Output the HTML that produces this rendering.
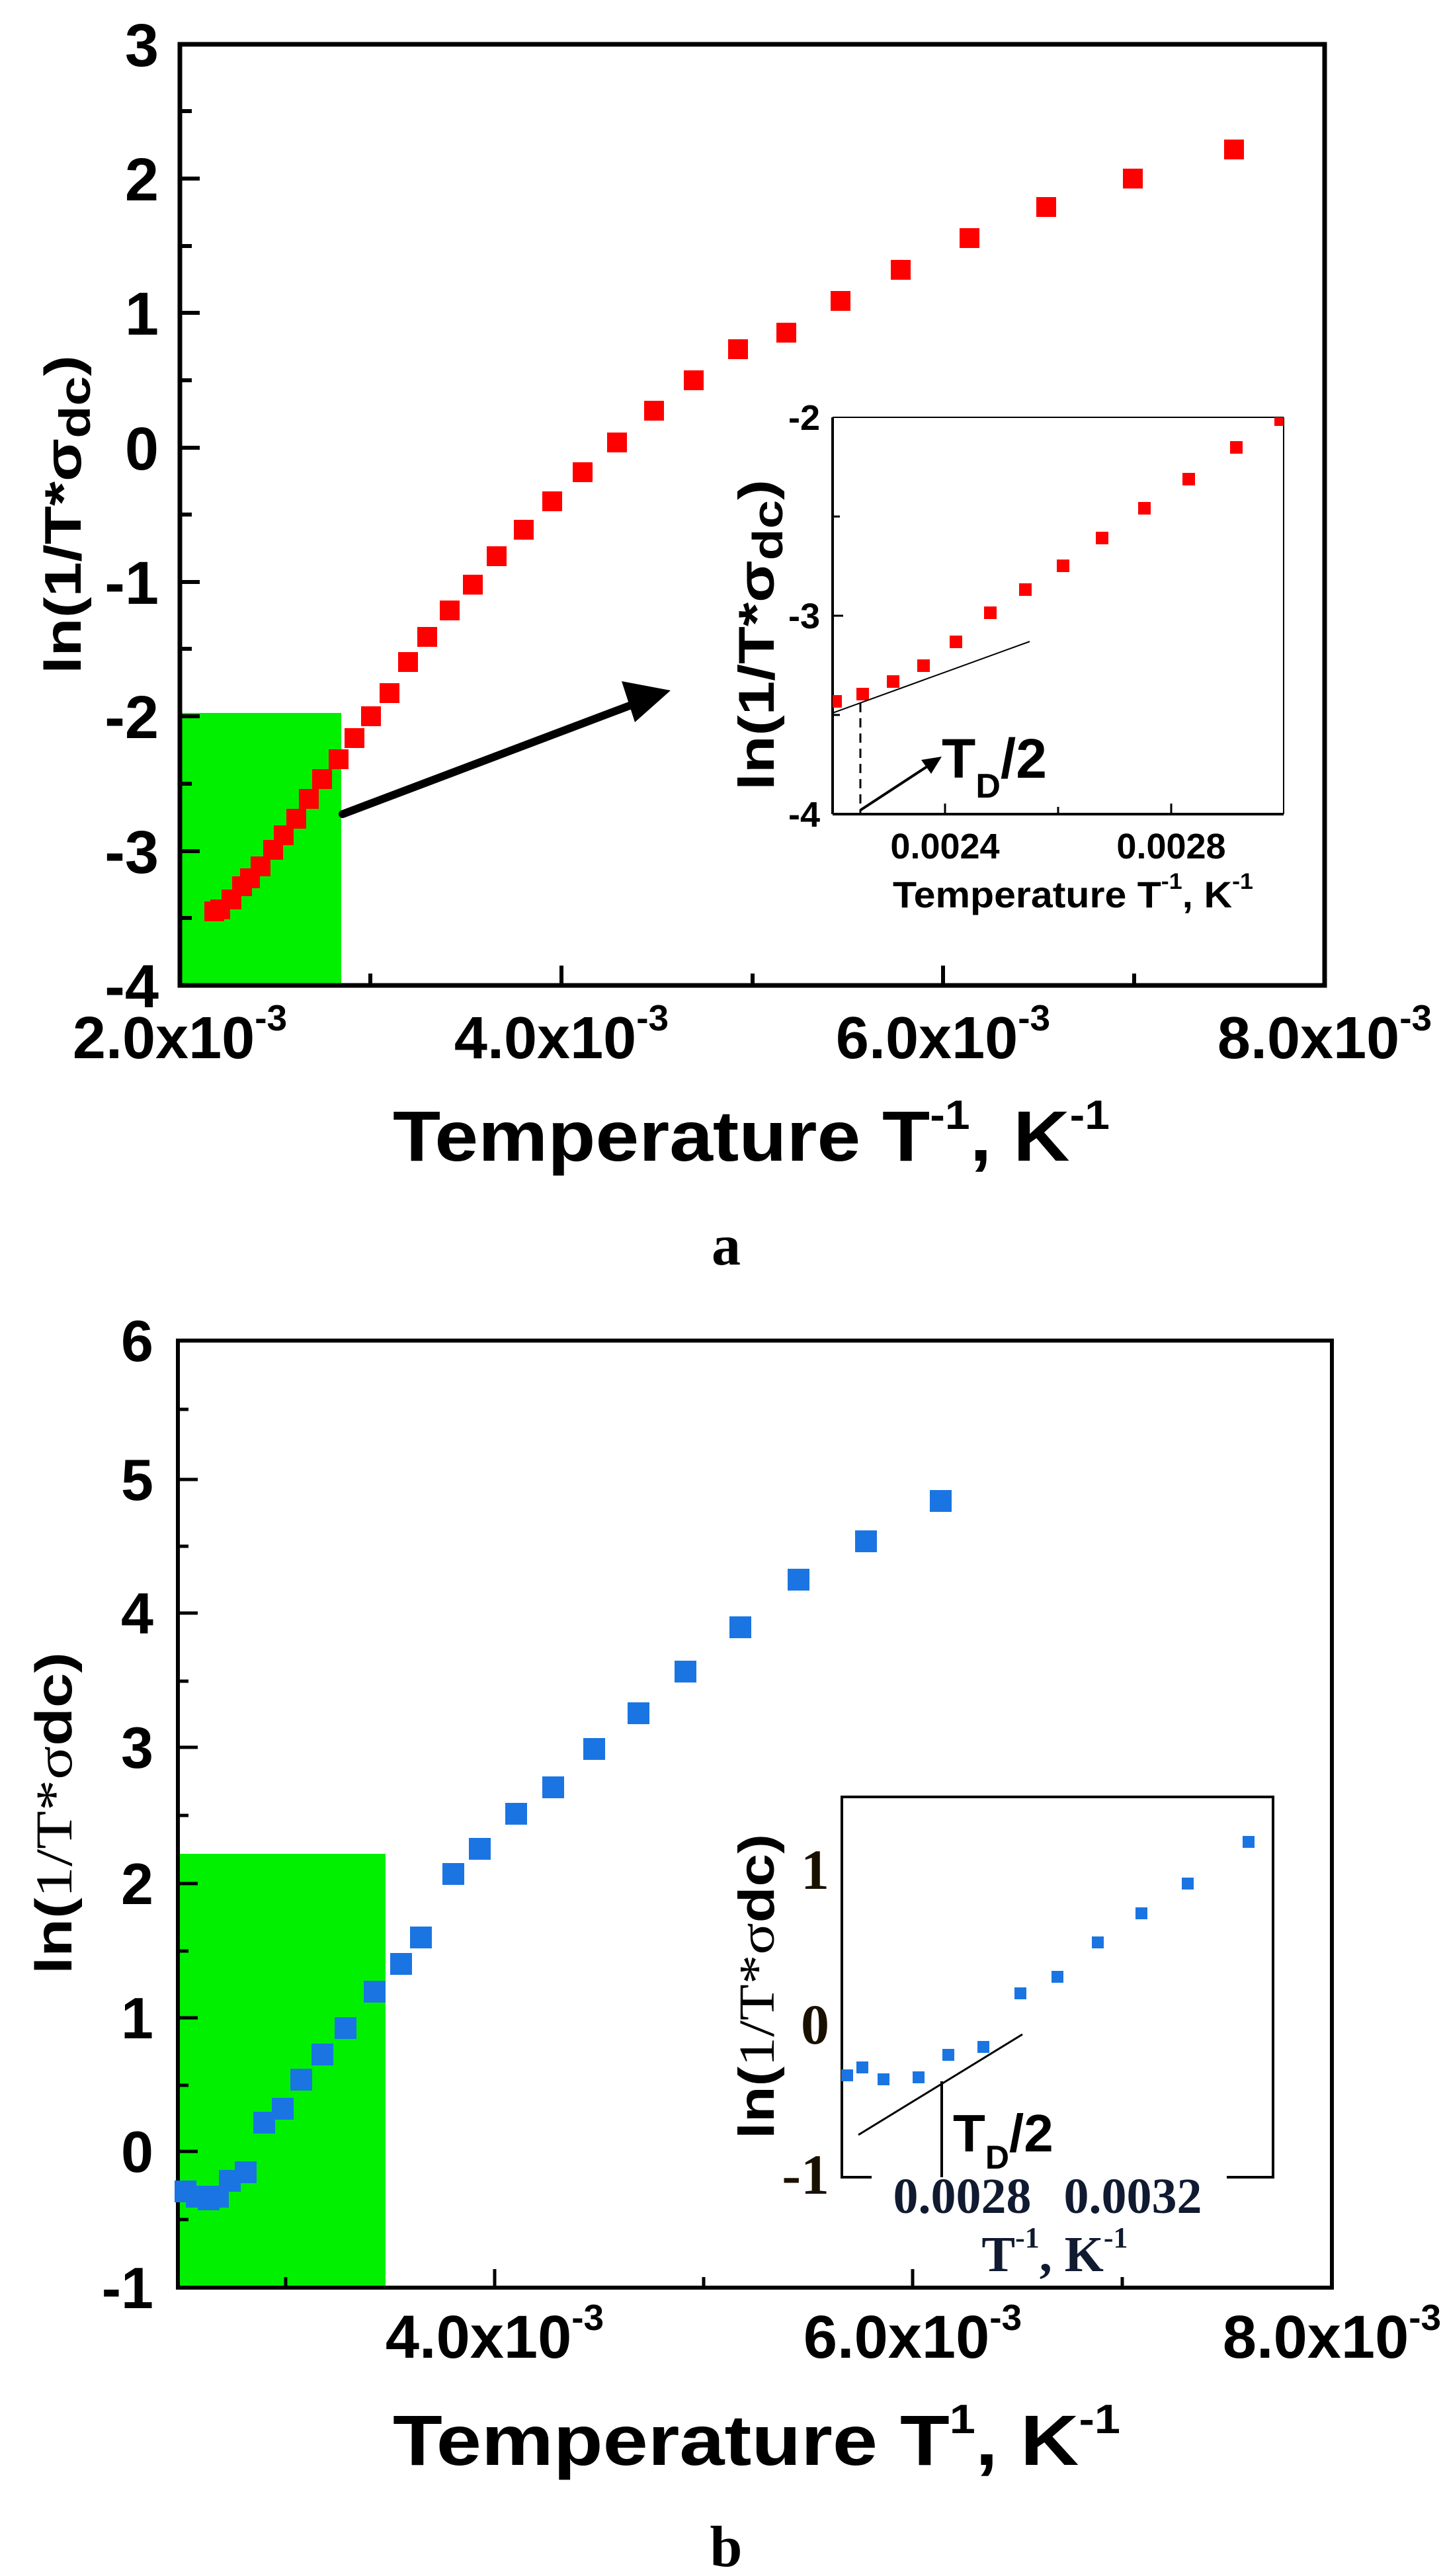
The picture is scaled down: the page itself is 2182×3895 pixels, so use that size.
<!DOCTYPE html>
<html><head><meta charset="utf-8"><style>html,body{margin:0;padding:0;background:#fff}svg{display:block}</style></head>
<body>
<svg xmlns="http://www.w3.org/2000/svg" width="2182" height="3895" viewBox="0 0 2182 3895">
<defs>
<clipPath id="ca"><rect x="1259" y="631" width="682" height="600"/></clipPath>
</defs>
<g font-family="Liberation Sans, Arial, sans-serif" font-weight="bold">
<!-- ===== Panel a ===== -->
<rect x="272" y="1078" width="244" height="412" fill="#00f000"/>
<rect x="272" y="67" width="1731" height="1423" fill="none" stroke="#000" stroke-width="7"/>
<g stroke="#000" stroke-width="6">
<line x1="272" y1="67" x2="302" y2="67"/><line x1="272" y1="168" x2="290" y2="168"/>
<line x1="272" y1="270" x2="302" y2="270"/><line x1="272" y1="372" x2="290" y2="372"/>
<line x1="272" y1="473" x2="302" y2="473"/><line x1="272" y1="575" x2="290" y2="575"/>
<line x1="272" y1="677" x2="302" y2="677"/><line x1="272" y1="778" x2="290" y2="778"/>
<line x1="272" y1="880" x2="302" y2="880"/><line x1="272" y1="981" x2="290" y2="981"/>
<line x1="272" y1="1083" x2="302" y2="1083"/><line x1="272" y1="1185" x2="290" y2="1185"/>
<line x1="272" y1="1287" x2="302" y2="1287"/><line x1="272" y1="1388" x2="290" y2="1388"/>
<line x1="560" y1="1490" x2="560" y2="1472"/><line x1="849" y1="1490" x2="849" y2="1460"/>
<line x1="1138" y1="1490" x2="1138" y2="1472"/><line x1="1426" y1="1490" x2="1426" y2="1460"/>
<line x1="1715" y1="1490" x2="1715" y2="1472"/>
</g>
<g font-size="92" text-anchor="end">
<text x="240" y="100">3</text><text x="240" y="303">2</text><text x="240" y="506">1</text>
<text x="240" y="710">0</text><text x="240" y="913">-1</text><text x="240" y="1116">-2</text>
<text x="240" y="1320">-3</text><text x="240" y="1523">-4</text>
</g>
<g font-size="90">
<text x="272" y="1600" text-anchor="middle">2.0x10<tspan font-size="55" dy="-42">-3</tspan></text>
<text x="849" y="1600" text-anchor="middle">4.0x10<tspan font-size="55" dy="-42">-3</tspan></text>
<text x="1426" y="1600" text-anchor="middle">6.0x10<tspan font-size="55" dy="-42">-3</tspan></text>
<text x="2003" y="1600" text-anchor="middle">8.0x10<tspan font-size="55" dy="-42">-3</tspan></text>
</g>
<text x="594" y="1755" font-size="108" textLength="1084" lengthAdjust="spacingAndGlyphs">Temperature T<tspan font-size="62" dy="-48">-1</tspan><tspan dy="48">, K</tspan><tspan font-size="62" dy="-48">-1</tspan></text>
<text transform="translate(122,1019) rotate(-90)" font-size="78" textLength="482" lengthAdjust="spacingAndGlyphs">ln(1/T*σ<tspan font-size="66" dy="14">dc</tspan><tspan dy="-14">)</tspan></text>
<g fill="#ff0000">
<rect x="309" y="1363" width="30" height="30"/><rect x="318" y="1360" width="30" height="30"/>
<rect x="335" y="1345" width="30" height="30"/><rect x="351" y="1325" width="30" height="30"/>
<rect x="363" y="1313" width="30" height="30"/><rect x="379" y="1295" width="30" height="30"/>
<rect x="398" y="1270" width="30" height="30"/><rect x="414" y="1248" width="30" height="30"/>
<rect x="433" y="1223" width="30" height="30"/><rect x="452" y="1193" width="30" height="30"/>
<rect x="472" y="1163" width="30" height="30"/><rect x="497" y="1133" width="30" height="30"/>
<rect x="521" y="1101" width="30" height="30"/><rect x="546" y="1068" width="30" height="30"/>
<rect x="574" y="1033" width="30" height="30"/><rect x="602" y="986" width="30" height="30"/>
<rect x="631" y="948" width="30" height="30"/><rect x="665" y="908" width="30" height="30"/>
<rect x="700" y="869" width="30" height="30"/><rect x="736" y="826" width="30" height="30"/>
<rect x="777" y="786" width="30" height="30"/><rect x="820" y="743" width="30" height="30"/>
<rect x="866" y="699" width="30" height="30"/><rect x="918" y="654" width="30" height="30"/>
<rect x="974" y="606" width="30" height="30"/><rect x="1034" y="560" width="30" height="30"/>
<rect x="1101" y="513" width="30" height="30"/><rect x="1174" y="488" width="30" height="30"/>
<rect x="1256" y="440" width="30" height="30"/><rect x="1347" y="393" width="30" height="30"/>
<rect x="1451" y="345" width="30" height="30"/><rect x="1567" y="298" width="30" height="30"/>
<rect x="1698" y="255" width="30" height="30"/><rect x="1851" y="211" width="30" height="30"/>
</g>
<line x1="518" y1="1231" x2="960" y2="1064" stroke="#000" stroke-width="12" stroke-linecap="round"/>
<polygon points="1014,1044 940,1030 960,1092" fill="#000"/>
<!-- inset a -->
<line x1="1259" y1="631" x2="1941" y2="631" stroke="#000" stroke-width="2"/>
<line x1="1941" y1="631" x2="1941" y2="1231" stroke="#000" stroke-width="2"/>
<line x1="1259" y1="631" x2="1259" y2="1231" stroke="#000" stroke-width="4"/>
<line x1="1259" y1="1231" x2="1941" y2="1231" stroke="#000" stroke-width="4"/>
<g stroke="#000" stroke-width="3">
<line x1="1259" y1="781" x2="1270" y2="781"/><line x1="1259" y1="931" x2="1275" y2="931"/>
<line x1="1259" y1="1081" x2="1270" y2="1081"/>
<line x1="1429" y1="1231" x2="1429" y2="1215"/><line x1="1600" y1="1231" x2="1600" y2="1220"/>
<line x1="1771" y1="1231" x2="1771" y2="1215"/>
</g>
<g font-size="54" text-anchor="end">
<text x="1240" y="650">-2</text><text x="1240" y="950">-3</text><text x="1240" y="1250">-4</text>
</g>
<g font-size="54" text-anchor="middle">
<text x="1429" y="1298">0.0024</text><text x="1771" y="1298">0.0028</text>
</g>
<text x="1350" y="1372" font-size="56" textLength="545" lengthAdjust="spacingAndGlyphs">Temperature T<tspan font-size="34" dy="-28">-1</tspan><tspan dy="28">, K</tspan><tspan font-size="34" dy="-28">-1</tspan></text>
<text transform="translate(1170,1195) rotate(-90)" font-size="76" textLength="470" lengthAdjust="spacingAndGlyphs">ln(1/T*σ<tspan font-size="64" dy="13">dc</tspan><tspan dy="-13">)</tspan></text>
<g fill="#ff0000" clip-path="url(#ca)">
<rect x="1254" y="1051" width="19" height="19"/><rect x="1295" y="1040" width="19" height="19"/>
<rect x="1341" y="1021" width="19" height="19"/><rect x="1387" y="997" width="19" height="19"/>
<rect x="1436" y="961" width="19" height="19"/><rect x="1488" y="917" width="19" height="19"/>
<rect x="1541" y="882" width="19" height="19"/><rect x="1598" y="846" width="19" height="19"/>
<rect x="1657" y="804" width="19" height="19"/><rect x="1721" y="759" width="19" height="19"/>
<rect x="1788" y="715" width="19" height="19"/><rect x="1860" y="667" width="19" height="19"/>
<rect x="1927" y="625" width="19" height="19"/>
</g>
<line x1="1259" y1="1078" x2="1557" y2="970" stroke="#000" stroke-width="2"/>
<line x1="1301" y1="1063" x2="1301" y2="1231" stroke="#000" stroke-width="3" stroke-dasharray="14,9"/>
<line x1="1301" y1="1225" x2="1405" y2="1157" stroke="#000" stroke-width="4"/>
<polygon points="1424,1144 1393,1149 1408,1170" fill="#000"/>
<text x="1424" y="1176" font-size="84">T<tspan font-size="52" dy="30">D</tspan><tspan dy="-30">/2</tspan></text>
<text x="1098" y="1912" font-family="Liberation Serif, serif" font-size="88" text-anchor="middle">a</text>

<!-- ===== Panel b ===== -->
<rect x="269" y="2803" width="314" height="656" fill="#00f000"/>
<rect x="269" y="2027" width="1745" height="1432" fill="none" stroke="#000" stroke-width="6"/>
<g stroke="#000" stroke-width="5">
<line x1="269" y1="2027" x2="299" y2="2027"/><line x1="269" y1="2131" x2="285" y2="2131"/>
<line x1="269" y1="2237" x2="299" y2="2237"/><line x1="269" y1="2338" x2="285" y2="2338"/>
<line x1="269" y1="2439" x2="299" y2="2439"/><line x1="269" y1="2542" x2="285" y2="2542"/>
<line x1="269" y1="2642" x2="299" y2="2642"/><line x1="269" y1="2745" x2="285" y2="2745"/>
<line x1="269" y1="2848" x2="299" y2="2848"/><line x1="269" y1="2950" x2="285" y2="2950"/>
<line x1="269" y1="3051" x2="299" y2="3051"/><line x1="269" y1="3153" x2="285" y2="3153"/>
<line x1="269" y1="3253" x2="299" y2="3253"/><line x1="269" y1="3356" x2="285" y2="3356"/>
<line x1="432" y1="3459" x2="432" y2="3443"/><line x1="748" y1="3459" x2="748" y2="3431"/>
<line x1="1064" y1="3459" x2="1064" y2="3443"/><line x1="1380" y1="3459" x2="1380" y2="3431"/>
<line x1="1697" y1="3459" x2="1697" y2="3443"/>
</g>
<g font-size="88" text-anchor="end">
<text x="232" y="2058">6</text><text x="232" y="2268">5</text><text x="232" y="2470">4</text>
<text x="232" y="2673">3</text><text x="232" y="2879">2</text><text x="232" y="3082">1</text>
<text x="232" y="3284">0</text><text x="232" y="3490">-1</text>
</g>
<g font-size="92">
<text x="748" y="3565" text-anchor="middle">4.0x10<tspan font-size="55" dy="-42">-3</tspan></text>
<text x="1380" y="3565" text-anchor="middle">6.0x10<tspan font-size="55" dy="-42">-3</tspan></text>
<text x="2014" y="3565" text-anchor="middle">8.0x10<tspan font-size="55" dy="-42">-3</tspan></text>
</g>
<text x="594" y="3727" font-size="108" textLength="1100" lengthAdjust="spacingAndGlyphs">Temperature T<tspan font-size="62" dy="-48">1</tspan><tspan dy="48">, K</tspan><tspan font-size="62" dy="-48">-1</tspan></text>
<text transform="translate(108,2985) rotate(-90)" font-size="78" textLength="487" lengthAdjust="spacingAndGlyphs">ln(<tspan font-family="Liberation Serif, serif" font-weight="normal">1/T*σ</tspan>dc)</text>
<g fill="#1a75e3">
<rect x="264" y="3297" width="33" height="33"/><rect x="281" y="3305" width="33" height="33"/>
<rect x="299" y="3309" width="33" height="33"/><rect x="313" y="3305" width="33" height="33"/>
<rect x="331" y="3281" width="33" height="33"/><rect x="355" y="3268" width="33" height="33"/>
<rect x="383" y="3193" width="33" height="33"/><rect x="411" y="3172" width="33" height="33"/>
<rect x="439" y="3128" width="33" height="33"/><rect x="471" y="3090" width="33" height="33"/>
<rect x="506" y="3050" width="33" height="33"/><rect x="550" y="2995" width="33" height="33"/>
<rect x="590" y="2953" width="33" height="33"/><rect x="620" y="2913" width="33" height="33"/>
<rect x="669" y="2817" width="33" height="33"/><rect x="709" y="2779" width="33" height="33"/>
<rect x="764" y="2726" width="33" height="33"/><rect x="820" y="2686" width="33" height="33"/>
<rect x="882" y="2628" width="33" height="33"/><rect x="949" y="2574" width="33" height="33"/>
<rect x="1020" y="2511" width="33" height="33"/><rect x="1103" y="2444" width="33" height="33"/>
<rect x="1191" y="2372" width="33" height="33"/><rect x="1293" y="2314" width="33" height="33"/>
<rect x="1406" y="2253" width="33" height="33"/>
</g>
<!-- inset b -->
<rect x="1273" y="2717" width="652" height="575" fill="none" stroke="#000" stroke-width="4"/>
<rect x="1318" y="3282" width="537" height="16" fill="#fff"/>
<g fill="#1a75e3">
<rect x="1272" y="3129" width="18" height="18"/><rect x="1295" y="3117" width="18" height="18"/>
<rect x="1327" y="3135" width="18" height="18"/><rect x="1380" y="3132" width="18" height="18"/>
<rect x="1425" y="3098" width="18" height="18"/><rect x="1478" y="3086" width="18" height="18"/>
<rect x="1534" y="3005" width="18" height="18"/><rect x="1590" y="2980" width="18" height="18"/>
<rect x="1651" y="2928" width="18" height="18"/><rect x="1717" y="2884" width="18" height="18"/>
<rect x="1787" y="2839" width="18" height="18"/><rect x="1879" y="2776" width="18" height="18"/>
</g>
<line x1="1298" y1="3228" x2="1546" y2="3076" stroke="#000" stroke-width="3"/>
<line x1="1424" y1="3147" x2="1424" y2="3292" stroke="#000" stroke-width="4"/>
<text x="1441" y="3253" font-size="80">T<tspan font-size="50" dy="26">D</tspan><tspan dy="-26">/2</tspan></text>
<g font-family="Liberation Serif, serif" font-size="86" text-anchor="end" fill="#1a1000">
<text x="1254" y="2856">1</text><text x="1254" y="3090">0</text><text x="1254" y="3317">-1</text>
</g>
<g font-family="Liberation Serif, serif" font-size="76" text-anchor="middle" fill="#101a30">
<text x="1455" y="3346">0.0028</text><text x="1713" y="3346">0.0032</text>
<text x="1595" y="3434">T<tspan font-size="44" dy="-36">-1</tspan><tspan dy="36">, K</tspan><tspan font-size="44" dy="-36">-1</tspan></text>
</g>
<text transform="translate(1170,3234) rotate(-90)" font-size="76" textLength="461" lengthAdjust="spacingAndGlyphs">ln(<tspan font-family="Liberation Serif, serif" font-weight="normal">1/T*σ</tspan>dc)</text>
<text x="1098" y="3880" font-family="Liberation Serif, serif" font-size="88" text-anchor="middle">b</text>
</g>
</svg>
</body></html>
